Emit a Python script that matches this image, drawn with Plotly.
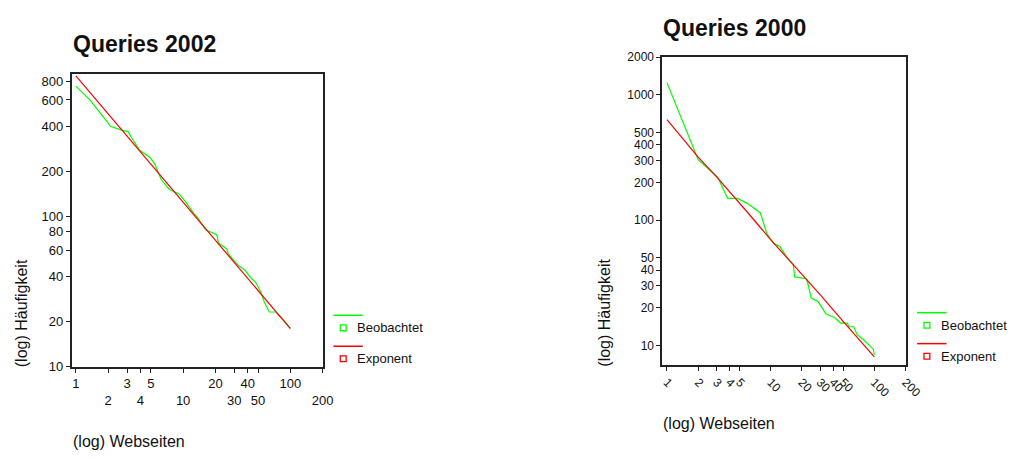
import plotly.graph_objects as go

# ---------------- data ----------------
rank_obs_2002 = [1, 1.37, 1.95, 2.1, 2.59, 3.08, 3.3, 3.95, 4.87, 5.42, 6.24, 7.45, 9.2, 10.6,
                 12.6, 13.5, 16.2, 20.6, 21.4, 25.5, 26.4, 32.6, 37.6, 41.8, 48, 53.4, 57.3,
                 63.7, 73.3, 81.5, 100]
freq_obs_2002 = [743, 594, 431, 401, 381, 368, 336, 276, 250, 226, 177, 152, 142, 125,
                 105, 100, 82, 76, 67, 61, 56.6, 47.5, 44.2, 40, 36.2, 31.2, 26.9,
                 23.2, 23.2, 21.5, 18.1]
rank_exp_2002 = [1, 1.7, 3, 5, 10, 20, 30, 50, 70, 100]
freq_exp_2002 = [870, 560, 345, 224, 125, 70, 49.5, 32.3, 24.4, 18.0]

rank_obs_2000 = [1, 2, 3.1, 3.85, 4.79, 5.96, 7.97, 9.2, 10.7, 12.3, 14.8, 16.5, 17.1, 22.1,
                 22.9, 24.6, 28.5, 34.2, 41, 47.4, 54.8, 56.9, 63.4, 68.2, 78.9, 88, 98, 100]
freq_obs_2000 = [1250, 303, 219, 149, 149, 136, 114, 78, 65, 61.5, 48.6, 44.5, 35.2, 34.1,
                 31.2, 23.9, 22.6, 17.8, 16.8, 15.1, 15.1, 14.1, 14.1, 12.2, 11.1, 10.2, 9.3, 8.4]
rank_exp_2000 = [1, 2, 3, 4, 6, 10, 20, 30, 50, 70, 100]
freq_exp_2000 = [634, 318, 222, 170, 115, 70, 37, 25.4, 15.6, 11.4, 8.1]

x_tickvals = [1, 2, 3, 4, 5, 10, 20, 30, 40, 50, 100, 200]
x_ticktext_2002 = ["1", "<br>2", "3", "<br>4", "5", "<br>10", "20", "<br>30", "40", "<br>50",
                   "100", "<br>200"]
x_ticktext_2000 = ["1", "2", "3", "4", "5", "10", "20", "30", "40", "50", "100", "200"]
y_tickvals_2002 = [10, 20, 40, 60, 80, 100, 200, 400, 600, 800]
y_tickvals_2000 = [10, 20, 30, 40, 50, 100, 200, 300, 400, 500, 1000, 2000]

titles = ["Queries 2002", "Queries 2000"]
series_names = ["Beobachtet", "Exponent"]

# ---------------- styling ----------------
W, H = 1026, 459
FONT = "Liberation Sans, Arial, sans-serif"
GREEN = "#00ff00"
RED = "#ff0000"


def px(x):
    return x / W


def py(y):
    return 1 - y / H


fig = go.Figure()

fig.add_trace(go.Scatter(x=rank_obs_2002, y=freq_obs_2002, mode="lines",
                         line=dict(color=GREEN, width=1.2), name=series_names[0],
                         xaxis="x", yaxis="y", showlegend=False))
fig.add_trace(go.Scatter(x=rank_exp_2002, y=freq_exp_2002, mode="lines",
                         line=dict(color=RED, width=1.2), name=series_names[1],
                         xaxis="x", yaxis="y", showlegend=False))
fig.add_trace(go.Scatter(x=rank_obs_2000, y=freq_obs_2000, mode="lines",
                         line=dict(color=GREEN, width=1.2), name=series_names[0],
                         xaxis="x2", yaxis="y2", showlegend=False))
fig.add_trace(go.Scatter(x=rank_exp_2000, y=freq_exp_2000, mode="lines",
                         line=dict(color=RED, width=1.2), name=series_names[1],
                         xaxis="x2", yaxis="y2", showlegend=False))

axis_common = dict(type="log", showgrid=False, zeroline=False, showline=True,
                   linecolor="#222222", linewidth=1.5, mirror=True, ticks="outside",
                   ticklen=4, tickwidth=1, tickcolor="#222222",
                   tickfont=dict(family=FONT, size=13, color="#111111"))
tick12 = dict(family=FONT, size=12, color="#111111")

fig.update_layout(
    width=W, height=H,
    margin=dict(l=0, r=0, t=0, b=0),
    paper_bgcolor="white", plot_bgcolor="white",
    showlegend=False,
    xaxis=dict(axis_common, domain=[px(71), px(327)], range=[-0.04, 2.301],
               tickmode="array", tickvals=x_tickvals, ticktext=x_ticktext_2002,
               anchor="y", tickangle=0),
    yaxis=dict(axis_common, domain=[py(372), py(69)], range=[1, 2.953],
               tickmode="array", tickvals=y_tickvals_2002,
               ticktext=[str(v) for v in y_tickvals_2002], anchor="x"),
    xaxis2=dict(axis_common, domain=[px(673.3), px(921.5)], range=[-0.046, 2.301],
                tickmode="array", tickvals=x_tickvals, ticktext=x_ticktext_2000,
                anchor="y2", tickangle=45, tickfont=tick12),
    yaxis2=dict(axis_common, domain=[py(370), py(51.7)], range=[0.845, 3.301],
                tickmode="array", tickvals=y_tickvals_2000,
                ticktext=[str(v) for v in y_tickvals_2000], anchor="x2", tickfont=tick12),
)

annotations = []
shapes = []

# titles
for (tx, ty), t in zip([(70, 38), (671.7, 21.7)], titles):
    annotations.append(dict(x=px(tx), y=py(ty), xref="paper", yref="paper", text="<b>" + t + "</b>",
                            showarrow=False, xanchor="left", yanchor="middle",
                            font=dict(family=FONT, size=23, color="#111111")))
# axis titles
for (tx, ty) in [(20, 317), (615, 316)]:
    annotations.append(dict(x=px(tx), y=py(ty), xref="paper", yref="paper", text="(log) Häufigkeit",
                            showarrow=False, textangle=-90, xanchor="center", yanchor="middle",
                            font=dict(family=FONT, size=16, color="#111111")))
for (tx, ty) in [(70, 449), (671.7, 430.7)]:
    annotations.append(dict(x=px(tx), y=py(ty), xref="paper", yref="paper", text="(log) Webseiten",
                            showarrow=False, xanchor="left", yanchor="middle",
                            font=dict(family=FONT, size=16, color="#111111")))

# legends (SPSS style: line above, square + label below)
for lx, ly in [(338, 318.7), (933.3, 316)]:
    for i, (col, name) in enumerate([(GREEN, series_names[0]), (RED, series_names[1])]):
        yl = ly + i * 32
        shapes.append(dict(type="line", xref="paper", yref="paper",
                           x0=px(lx), x1=px(lx + 30), y0=py(yl), y1=py(yl),
                           line=dict(color=col, width=1.5)))
        sy = yl + 13
        shapes.append(dict(type="rect", xref="paper", yref="paper",
                           x0=px(lx + 7), x1=px(lx + 13), y0=py(sy + 3), y1=py(sy - 3),
                           line=dict(color=col, width=1.3), fillcolor="white"))
        annotations.append(dict(x=px(lx + 22), y=py(sy), xref="paper", yref="paper", text=name,
                                showarrow=False, xanchor="left", yanchor="middle",
                                font=dict(family=FONT, size=13, color="#111111")))

fig.update_layout(annotations=annotations, shapes=shapes)

fig.write_html("out.html",
               config={"displayModeBar": False},
               post_script="document.body.style.margin='0';document.body.style.overflow='hidden';")
